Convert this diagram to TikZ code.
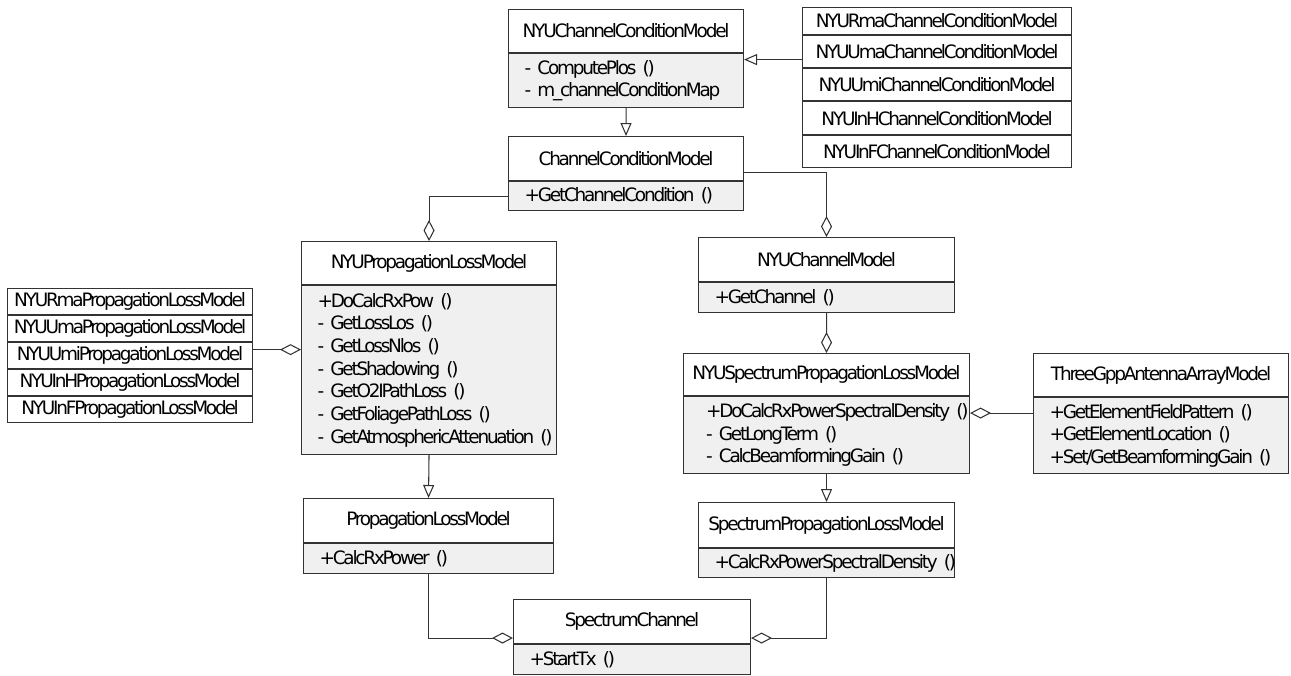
\documentclass[tikz,border=0pt]{standalone}
\usepackage{fontspec}
\setmainfont{DejaVu Sans}[LetterSpace=-12, WordSpace=0.35]
\usetikzlibrary{arrows.meta, positioning}
\definecolor{umlline}{HTML}{333333}
\definecolor{umlgray}{HTML}{F0F0F0}
\hyphenpenalty=10000
\exhyphenpenalty=10000

\begin{document}
\begin{tikzpicture}[
    classname/.style={draw=umlline, line width=0.6pt, fill=white, anchor=north west,
                      inner sep=0pt, font=\fontsize{10.5}{12.9}\selectfont},
    ops/.style={draw=umlline, line width=0.6pt, fill=umlgray, anchor=north west,
                inner xsep=0.32cm, inner ysep=0pt, align=left,
                font=\fontsize{10.5}{12.9}\selectfont},
    ccmrow/.style={classname, minimum width=5.38cm},
    proprow/.style={classname, minimum width=4.90cm, minimum height=0.52cm},
    inherit/.style={-{Triangle[open, length=0.26cm, width=0.22cm]}, line width=0.6pt, umlline},
    aggr/.style={-{Diamond[open, length=0.42cm, width=0.22cm]}, line width=0.6pt, umlline}
  ]
    \useasboundingbox (0,0) rectangle (25.82,-13.50);

    % channel condition models
    \node[classname, minimum width=4.70cm, minimum height=0.86cm] (nyuccm) at (10.16,-0.18)
      {NYUChannelConditionModel};
    \node[ops, text width=4.06cm, minimum height=1.08cm] (nyuccm-m) at (nyuccm.south west)
      {-~ComputePlos~()\\-~m\_channelConditionMap};
    \node[classname, minimum width=4.70cm, minimum height=0.88cm] (ccm) at (10.16,-2.72)
      {ChannelConditionModel};
    \node[ops, text width=4.06cm, minimum height=0.58cm] (ccm-m) at (ccm.south west)
      {+GetChannelCondition~()};

    \node[ccmrow, minimum height=0.54cm] (rmaccm) at (16.04,-0.14) {NYURmaChannelConditionModel};
    \node[ccmrow, minimum height=0.64cm] (umaccm) at (rmaccm.south west) {NYUUmaChannelConditionModel};
    \node[ccmrow, minimum height=0.64cm] (umiccm) at (umaccm.south west) {NYUUmiChannelConditionModel};
    \node[ccmrow, minimum height=0.66cm] (inhccm) at (umiccm.south west) {NYUInHChannelConditionModel};
    \node[ccmrow, minimum height=0.64cm] (infccm) at (inhccm.south west) {NYUInFChannelConditionModel};

    % propagation loss models
    \node[classname, minimum width=5.10cm, minimum height=0.86cm] (nyuprop) at (6.02,-4.82)
      {NYUPropagationLossModel};
    \node[ops, text width=4.46cm, minimum height=3.38cm] (nyuprop-m) at (nyuprop.south west)
      {+DoCalcRxPow~()\\-~GetLossLos~()\\-~GetLossNlos~()\\-~GetShadowing~()\\
       -~GetO2IPathLoss~()\\-~GetFoliagePathLoss~()\\-~GetAtmosphericAttenuation~()};
    \node[classname, minimum width=5.00cm, minimum height=0.88cm] (proplm) at (6.06,-9.96)
      {PropagationLossModel};
    \node[ops, text width=4.36cm, minimum height=0.60cm] (proplm-m) at (proplm.south west)
      {+CalcRxPower~()};

    \node[proprow] (rmaprop) at (0.14,-5.76) {NYURmaPropagationLossModel};
    \node[proprow] (umaprop) at (rmaprop.south west) {NYUUmaPropagationLossModel};
    \node[proprow] (umiprop) at (umaprop.south west) {NYUUmiPropagationLossModel};
    \node[proprow] (inhprop) at (umiprop.south west) {NYUInHPropagationLossModel};
    \node[proprow] (infprop) at (inhprop.south west) {NYUInFPropagationLossModel};

    % channel and spectrum models
    \node[classname, minimum width=5.12cm, minimum height=0.88cm] (nyucm) at (13.96,-4.74)
      {NYUChannelModel};
    \node[ops, text width=4.48cm, minimum height=0.60cm] (nyucm-m) at (nyucm.south west)
      {+GetChannel~()};
    \node[classname, minimum width=5.72cm, minimum height=0.84cm] (nyuspec) at (13.66,-7.06)
      {NYUSpectrumPropagationLossModel};
    \node[ops, inner xsep=0.45cm, text width=4.82cm, minimum height=1.54cm] (nyuspec-m) at (nyuspec.south west)
      {+DoCalcRxPowerSpectralDensity~()\\-~GetLongTerm~()\\-~CalcBeamformingGain~()};
    \node[classname, minimum width=5.10cm, minimum height=0.86cm] (three) at (20.66,-7.06)
      {ThreeGppAntennaArrayModel};
    \node[ops, text width=4.46cm, minimum height=1.52cm] (three-m) at (three.south west)
      {+GetElementFieldPattern~()\\+GetElementLocation~()\\+Set/GetBeamformingGain~()};
    \node[classname, minimum width=5.12cm, minimum height=0.90cm] (splm) at (13.96,-10.04)
      {SpectrumPropagationLossModel};
    \node[ops, text width=4.48cm, minimum height=0.58cm] (splm-m) at (splm.south west)
      {+CalcRxPowerSpectralDensity~()};
    \node[classname, minimum width=4.74cm, minimum height=0.88cm] (sc) at (10.26,-11.98)
      {SpectrumChannel};
    \node[ops, text width=4.10cm, minimum height=0.60cm] (sc-m) at (sc.south west)
      {+StartTx~()};

    % relations
    \draw[inherit] ([yshift=-0.16cm]umaccm.west) -- ([yshift=-0.16cm]umaccm.west -| nyuccm-m.east);
    \draw[inherit] (nyuccm-m.south) -- (ccm.north);
    \draw[aggr] (ccm-m.west) -| (nyuprop.north);
    \draw[aggr] ([yshift=-0.28cm]ccm.east) -| (nyucm.north);
    \draw[aggr] (nyucm-m.south) -- (nyuspec.north);
    \draw[aggr] ([yshift=-0.32cm]three-m.north west) -- ([yshift=-0.32cm]three-m.north west -| nyuspec-m.east);
    \draw[aggr] ([yshift=0.12cm]umiprop.east) -- ([yshift=0.12cm]umiprop.east -| nyuprop-m.west);
    \draw[inherit] (nyuprop-m.south) -- (proplm.north);
    \draw[inherit] (nyuspec-m.south) -- (splm.north);
    \draw[aggr] (proplm-m.south) |- ([yshift=0.12cm]sc.south west);
    \draw[aggr] (splm-m.south) |- ([yshift=0.12cm]sc.south east);
  \end{tikzpicture}
\end{document}
